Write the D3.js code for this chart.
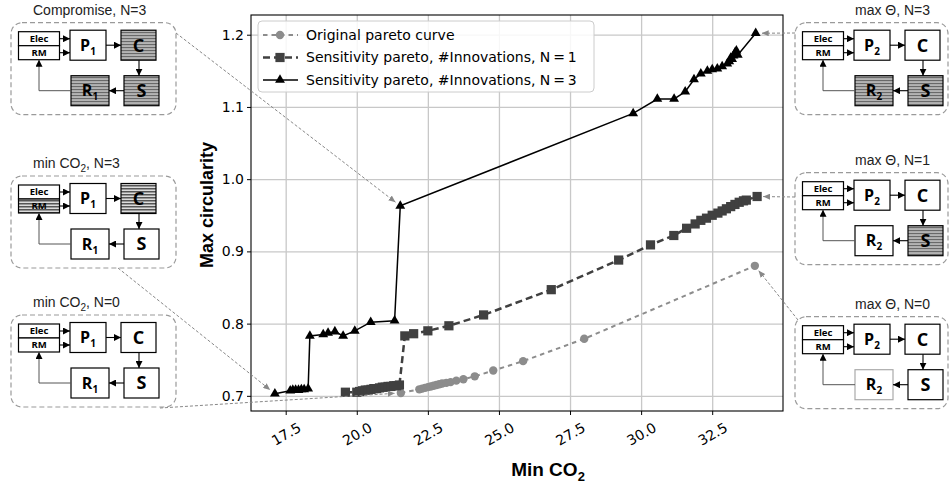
<!DOCTYPE html>
<html lang="en">
<head>
<meta charset="UTF-8">
<title>Pareto sensitivity</title>
<script src="https://cdn.jsdelivr.net/npm/d3@7"></script>
<style>
  body { margin: 0; background: #fff; }
  svg { display: block; font-family: "DejaVu Sans", sans-serif; }
</style>
</head>
<body>
<div id="chart"></div>
<script>
// ---- data ----
// original pareto curve
const origX = [21.55, 22.2, 22.3, 22.4, 22.5, 22.6, 22.7, 22.8, 22.9, 23.0, 23.15, 23.3, 23.5, 23.75, 24.15, 24.8, 25.85, 28.0, 34.0];
const origY = [0.704, 0.709, 0.710, 0.711, 0.712, 0.713, 0.714, 0.715, 0.716, 0.717, 0.718, 0.719, 0.721, 0.723, 0.727, 0.735, 0.748, 0.779, 0.880];
// sensitivity pareto, N=1
const n1X = [19.6, 20.0, 20.1, 20.2, 20.3, 20.4, 20.5, 20.6, 20.7, 20.8, 20.9, 21.0, 21.1, 21.2, 21.3, 21.4, 21.5,
             21.69, 22.0, 22.5, 23.24, 24.46, 26.84, 29.21, 30.33, 31.15, 31.6, 31.9, 32.1, 32.3, 32.5, 32.7, 32.85,
             33.0, 33.15, 33.3, 33.45, 33.6, 33.7, 34.08];
const n1Y = [0.705, 0.705, 0.706, 0.707, 0.708, 0.708, 0.709, 0.710, 0.710, 0.711, 0.712, 0.712, 0.713, 0.713, 0.714, 0.714, 0.715,
             0.783, 0.786, 0.790, 0.797, 0.812, 0.847, 0.888, 0.909, 0.922, 0.932, 0.938, 0.943, 0.946, 0.950, 0.953, 0.956,
             0.959, 0.962, 0.965, 0.968, 0.970, 0.971, 0.976];
// sensitivity pareto, N=3
const n3X = [17.12, 17.66, 17.75, 17.85, 17.95, 18.05, 18.15, 18.29, 18.35, 18.82, 18.99, 19.23, 19.52, 19.93, 20.49, 21.33, 21.53,
             29.72, 30.57, 31.16, 31.55, 31.86, 32.1, 32.33, 32.5, 32.68, 32.85, 33.03, 33.1, 33.15, 33.2, 33.25, 33.3, 33.35, 33.4, 34.03];
const n3Y = [0.703, 0.707, 0.708, 0.708, 0.708, 0.709, 0.709, 0.710, 0.783, 0.785, 0.787, 0.789, 0.783, 0.790, 0.802, 0.804, 0.963,
             1.091, 1.111, 1.111, 1.121, 1.138, 1.146, 1.150, 1.152, 1.153, 1.156, 1.160, 1.163, 1.168, 1.166, 1.171, 1.175, 1.178, 1.172, 1.202];

const xTicks = [17.5, 20.0, 22.5, 25.0, 27.5, 30.0, 32.5];
const yTicks = [0.7, 0.8, 0.9, 1.0, 1.1, 1.2];
const seriesNames = ["Original pareto curve",
                     "Sensitivity pareto, #Innovations, N\u2009=\u20091",
                     "Sensitivity pareto, #Innovations, N\u2009=\u20093"];

// side panels (title parts between | are subscripts)
const panelTitles = ["Compromise, N=3", "min CO|2|, N=3", "min CO|2|, N=0", "max \u0398, N=3", "max \u0398, N=1", "max \u0398, N=0"];
const panelIndex = [1, 1, 1, 2, 2, 2];
const panelHatched = [["C", "S", "R"], ["RM", "C"], [], ["R", "S"], ["S"], []];
const panelFaint = [[], [], [], [], [], ["R"]];

// ---- layout ----
const W = 951, H = 489;
const plot = { left: 251, right: 783, top: 15, bottom: 411 };

const svg = d3.select("#chart").append("svg")
    .attr("width", W).attr("height", H);

const defs = svg.append("defs");
const hatch = defs.append("pattern").attr("id", "hatch")
    .attr("width", 4).attr("height", 3).attr("patternUnits", "userSpaceOnUse");
hatch.append("rect").attr("width", 4).attr("height", 3).attr("fill", "#dcdcdc");
hatch.append("rect").attr("width", 4).attr("height", 1.5).attr("fill", "#555");

defs.append("marker").attr("id", "headBlack")
    .attr("markerUnits", "userSpaceOnUse").attr("markerWidth", 7).attr("markerHeight", 7)
    .attr("refX", 7).attr("refY", 3.5).attr("orient", "auto")
  .append("path").attr("d", "M0,0L7,3.5L0,7Z").attr("fill", "#000");
defs.append("marker").attr("id", "headGray")
    .attr("markerUnits", "userSpaceOnUse").attr("markerWidth", 7).attr("markerHeight", 6)
    .attr("refX", 7).attr("refY", 3).attr("orient", "auto")
  .append("path").attr("d", "M0,0L7,3L0,6Z").attr("fill", "#888");

const x = d3.scaleLinear().domain([16.28, 34.99]).range([plot.left, plot.right]);
const y = d3.scaleLinear().domain([0.679, 1.2273]).range([plot.bottom, plot.top]);

// grid
svg.append("g").attr("transform", `translate(0,${plot.bottom})`)
    .call(d3.axisBottom(x).tickValues(xTicks).tickSize(-(plot.bottom - plot.top)).tickFormat(""))
    .call(g => g.select(".domain").remove())
    .call(g => g.selectAll("line").attr("stroke", "#c8c8c8").attr("stroke-width", 1.3));
svg.append("g").attr("transform", `translate(${plot.left},0)`)
    .call(d3.axisLeft(y).tickValues(yTicks).tickSize(-(plot.right - plot.left)).tickFormat(""))
    .call(g => g.select(".domain").remove())
    .call(g => g.selectAll("line").attr("stroke", "#c8c8c8").attr("stroke-width", 1.3));

// axes
svg.append("g").attr("transform", `translate(0,${plot.bottom})`)
    .call(d3.axisBottom(x).tickValues(xTicks).tickSize(4).tickFormat(d3.format(".1f")))
    .call(g => g.select(".domain").remove())
    .call(g => g.selectAll("text")
        .attr("y", 0).attr("dy", "0.35em")
        .attr("transform", "translate(0,23) rotate(-30)")
        .attr("text-anchor", "middle")
        .attr("font-size", 14).attr("font-family", "DejaVu Sans").attr("fill", "#000"));
svg.append("g").attr("transform", `translate(${plot.left},0)`)
    .call(d3.axisLeft(y).tickValues(yTicks).tickSize(4).tickFormat(d3.format(".1f")))
    .call(g => g.select(".domain").remove())
    .call(g => g.selectAll("text")
        .attr("font-size", 14).attr("font-family", "DejaVu Sans").attr("fill", "#000"));

// series
const series = [
  { xs: origX, ys: origY, color: "#8c8c8c", width: 2, dash: "4.5,4", symbol: d3.symbolCircle, size: 55 },
  { xs: n1X, ys: n1Y, color: "#404040", width: 2.5, dash: "7,4", symbol: d3.symbolSquare, size: 85 },
  { xs: n3X, ys: n3Y, color: "#000000", width: 1.5, dash: null, symbol: d3.symbolTriangle, size: 42 }
];
const line = d3.line().x(d => x(d[0])).y(d => y(d[1]));

series.forEach(s => {
  const pts = s.xs.map((v, i) => [v, s.ys[i]]);
  svg.append("path").datum(pts)
      .attr("d", line).attr("fill", "none")
      .attr("stroke", s.color).attr("stroke-width", s.width)
      .attr("stroke-dasharray", s.dash);
  svg.append("g").selectAll("path").data(pts).join("path")
      .attr("transform", d => `translate(${x(d[0])},${y(d[1])})`)
      .attr("d", d3.symbol().type(s.symbol).size(s.size))
      .attr("fill", s.color);
});

// frame
svg.append("rect")
    .attr("x", plot.left).attr("y", plot.top)
    .attr("width", plot.right - plot.left).attr("height", plot.bottom - plot.top)
    .attr("fill", "none").attr("stroke", "#000").attr("stroke-width", 1.1);

// legend
const leg = svg.append("g").attr("transform", "translate(258,21)");
leg.append("rect").attr("width", 336).attr("height", 71).attr("rx", 4)
    .attr("fill", "#fff").attr("fill-opacity", 0.85).attr("stroke", "#cccccc");
series.forEach((s, i) => {
  const ly = 14 + i * 22.5;
  leg.append("line").attr("x1", 5).attr("x2", 40).attr("y1", ly).attr("y2", ly)
      .attr("stroke", s.color).attr("stroke-width", s.width).attr("stroke-dasharray", s.dash);
  leg.append("path").attr("transform", `translate(22,${ly})`)
      .attr("d", d3.symbol().type(s.symbol).size(s.size)).attr("fill", s.color);
  leg.append("text").attr("x", 48).attr("y", ly).attr("dy", "0.35em")
      .attr("font-size", 14).text(seriesNames[i]);
});

// axis titles
svg.append("text")
    .attr("transform", `translate(213,205) rotate(-90)`)
    .attr("text-anchor", "middle")
    .attr("font-family", "Liberation Sans, Arial, sans-serif")
    .attr("font-weight", "bold").attr("font-size", 18)
    .text("Max circularity");
const xl = svg.append("text")
    .attr("x", 548).attr("y", 476)
    .attr("text-anchor", "middle")
    .attr("font-family", "Liberation Sans, Arial, sans-serif")
    .attr("font-weight", "bold").attr("font-size", 19);
xl.append("tspan").text("Min CO");
xl.append("tspan").attr("font-size", 13).attr("dy", 5).text("2");

// ---- side panels ----
const panelPos = [
  { x: 11, y: 22.7, w: 165, tx: 33 }, { x: 11, y: 176, w: 165, tx: 33 }, { x: 11, y: 315, w: 165, tx: 33 },
  { x: 795, y: 22.7, w: 153, tx: 855 }, { x: 795, y: 172.7, w: 153, tx: 855 }, { x: 795, y: 316.7, w: 153, tx: 855 }
];
const boxes = {
  P: { x: 59, y: 7.5, w: 36, h: 30 },
  C: { x: 110, y: 7.5, w: 35, h: 30 },
  S: { x: 113, y: 53, w: 35, h: 30 },
  R: { x: 60, y: 53, w: 38, h: 30 }
};
const elecBox = { x: 7.5, y: 9, w: 41, h: 28 };

function drawPanel(i) {
  const p = panelPos[i];
  const hat = panelHatched[i], faint = panelFaint[i];
  const g = svg.append("g").attr("transform", `translate(${p.x},${p.y})`);

  // title
  const t = svg.append("text").attr("x", p.tx).attr("y", p.y - 8)
      .attr("font-family", "Liberation Sans, Arial, sans-serif").attr("font-size", 14).attr("fill", "#222");
  panelTitles[i].split("|").forEach((part, k) => {
    if (k % 2) t.append("tspan").attr("font-size", 10).attr("dy", 4).text(part);
    else t.append("tspan").attr("dy", k ? -4 : 0).text(part);
  });

  g.append("rect").attr("width", p.w).attr("height", 92).attr("rx", 11)
      .attr("fill", "none").attr("stroke", "#9a9a9a").attr("stroke-width", 1.2)
      .attr("stroke-dasharray", "5,3");

  // Elec / RM split box
  const eh = elecBox.h / 2;
  g.append("rect").attr("x", elecBox.x).attr("y", elecBox.y).attr("width", elecBox.w).attr("height", eh)
      .attr("fill", hat.includes("Elec") ? "url(#hatch)" : "#fff").attr("stroke", "#000").attr("stroke-width", 1.2);
  g.append("rect").attr("x", elecBox.x).attr("y", elecBox.y + eh).attr("width", elecBox.w).attr("height", eh)
      .attr("fill", hat.includes("RM") ? "url(#hatch)" : "#fff").attr("stroke", "#000").attr("stroke-width", 1.2);
  [["Elec", elecBox.y + eh / 2], ["RM", elecBox.y + eh * 1.5]].forEach(([s, cy]) => {
    g.append("text").attr("x", elecBox.x + elecBox.w / 2).attr("y", cy).attr("dy", "0.36em")
        .attr("text-anchor", "middle").attr("font-family", "Open Sans, sans-serif")
        .attr("font-weight", "bold").attr("font-size", 9.5).text(s);
  });

  Object.entries(boxes).forEach(([k, b]) => {
    g.append("rect").attr("x", b.x).attr("y", b.y).attr("width", b.w).attr("height", b.h)
        .attr("fill", hat.includes(k) ? "url(#hatch)" : "#fff")
        .attr("stroke", faint.includes(k) ? "#aaaaaa" : "#000").attr("stroke-width", 1.2);
    const txt = g.append("text").attr("x", b.x + b.w / 2).attr("y", b.y + b.h / 2).attr("dy", "0.36em")
        .attr("text-anchor", "middle").attr("font-family", "Open Sans, sans-serif")
        .attr("font-weight", "bold").attr("font-size", k === "P" || k === "R" ? 16 : 18);
    txt.append("tspan").text(k);
    if (k === "P" || k === "R") txt.append("tspan").attr("font-size", 10).attr("dy", 4).text(panelIndex[i]);
  });

  const arrows = [
    [[48.5, 16], [59, 16]], [[48.5, 30], [59, 30]],
    [[95, 22.5], [110, 22.5]], [[128, 37.5], [128, 53]], [[113, 68], [98, 68]]
  ];
  arrows.forEach(a => {
    g.append("path").attr("d", d3.line()(a)).attr("stroke", "#000").attr("stroke-width", 1.1)
        .attr("fill", "none").attr("marker-end", "url(#headBlack)");
  });
  g.append("path").attr("d", d3.line()([[60, 68], [28, 68], [28, 37]]))
      .attr("stroke", "#555").attr("stroke-width", 1).attr("fill", "none")
      .attr("marker-end", "url(#headBlack)");
}
panelTitles.forEach((_, i) => drawPanel(i));

// ---- connectors from panels to points ----
const connectors = [
  { from: [176, 33], xs: n3X, ys: n3Y, i: 16 },
  { from: [118, 268], xs: n3X, ys: n3Y, i: 0 },
  { from: [160, 408], xs: origX, ys: origY, i: 0 },
  { from: [795, 33], xs: n3X, ys: n3Y, i: n3X.length - 1 },
  { from: [795, 197], xs: n1X, ys: n1Y, i: n1X.length - 1 },
  { from: [798, 320], xs: origX, ys: origY, i: origX.length - 1 }
];
connectors.forEach(c => {
  const px = x(c.xs[c.i]), py = y(c.ys[c.i]);
  const dx = c.from[0] - px, dy = c.from[1] - py, len = Math.hypot(dx, dy);
  const tip = [px + dx / len * 6, py + dy / len * 6];
  svg.append("path").attr("d", d3.line()([c.from, tip]))
      .attr("stroke", "#888").attr("stroke-width", 1).attr("stroke-dasharray", "3,2")
      .attr("fill", "none").attr("marker-end", "url(#headGray)");
});
</script>
</body>
</html>
